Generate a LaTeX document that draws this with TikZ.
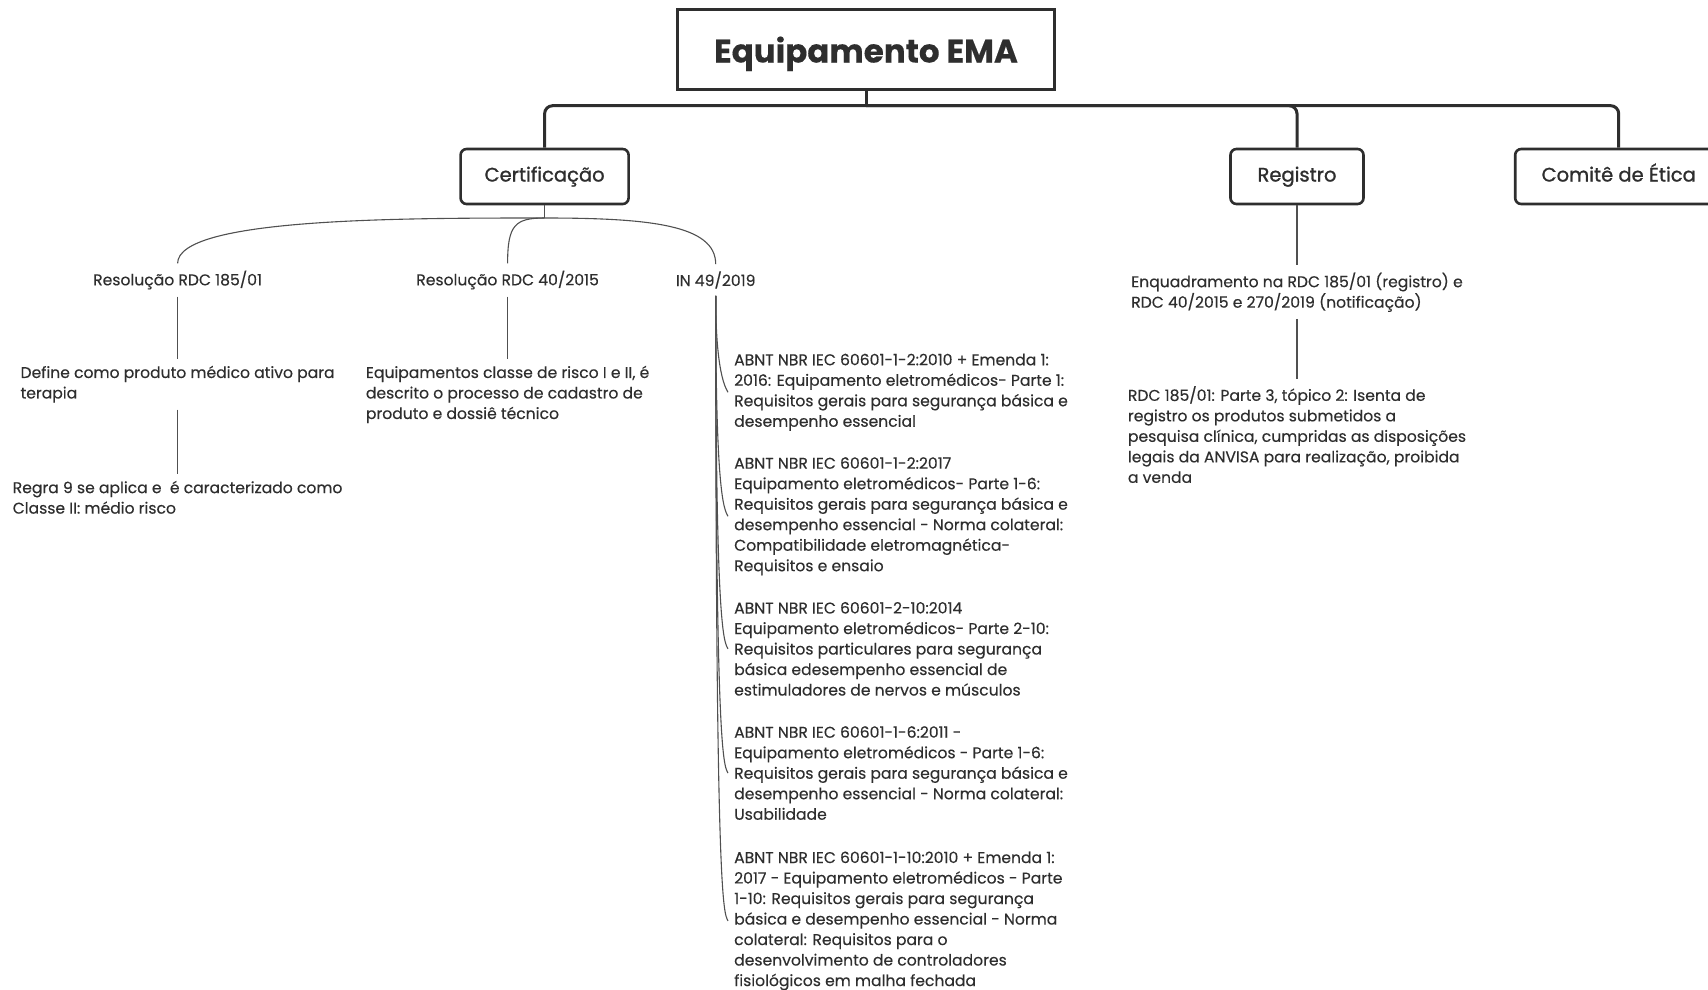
\documentclass[tikz,border=0pt]{standalone}
\usepackage{fontspec}
\setmainfont{Poppins}[FakeBold=0.3]
\newfontfamily\medfont{Poppins}[FakeBold=1.2]
\usetikzlibrary{positioning,calc}
\definecolor{ink}{HTML}{2E2E2E}
\definecolor{wire}{HTML}{505050}
\tikzset{topbox/.style={draw=ink,line width=3pt,minimum width=377pt,minimum height=80pt,text=ink,
	   text depth=0pt,font=\fontsize{32.5}{38}\selectfont\bfseries},
	 catbox/.style={draw=ink,line width=2.6pt,rounded corners=6pt,minimum height=55pt,text=ink,
	   text height=14pt,text depth=4pt,font=\fontsize{19.5}{23}\medfont},
	 leaf/.style={align=left,inner xsep=0pt,inner ysep=7pt,text=ink,font=\fontsize{15.6}{20.5}\selectfont},
	 norma/.style={leaf,inner xsep=6pt,anchor=north west},
	 bus/.style={draw=ink,line width=3pt,rounded corners=8pt},
	 twig/.style={draw=wire,line width=1.1pt}
	 }

\begin{document}
\begin{tikzpicture}[x=1pt,y=-1pt]
	\useasboundingbox (0,0) rectangle (1708,989);
	\node[topbox] (ema) at (866,49.5) {Equipamento EMA};
	\node[catbox,minimum width=168pt] (cert) at (544.6,176.5) {Certificação};
	\node[catbox,minimum width=133pt] (reg) at (1297,176.5) {Registro};
	\node[catbox,minimum width=207pt] (etica) at (1618.7,176.5) {Comitê de Ética};
	\coordinate (hub) at (866,105.7);
	\draw[bus] (ema.south) -- (hub);
	\draw[bus] (hub) -| (cert.north);
	\draw[bus] (hub) -| (reg.north);
	\draw[bus] (hub) -| (etica.north);
	% Certificação
	\coordinate (cfork) at (544.6,218);
	\node[leaf] (r185) at (177.6,280) {Resolução RDC 185/01};
	\node[leaf] (r40) at (507.6,280) {Resolução RDC 40/2015};
	\node[leaf] (in49) at (715.7,280) {IN 49/2019};
	\node[leaf] (ativo) [below=62pt of r185] {Define como produto médico ativo para\\terapia};
	\node[leaf] (regra) [below=64pt of ativo] {Regra 9 se aplica e\ \ é caracterizado como\\Classe II: médio risco};
	\node[leaf] (cadastro) [below=62pt of r40] {Equipamentos classe de risco I e II, é\\descrito o processo de cadastro de\\produto e dossiê técnico};
	\draw[twig] (cert.south) -- (cfork);
	\draw[twig] (cfork) .. controls (400,218) and (177.6,218) .. (r185.north);
	\draw[twig] (cfork) .. controls (515,218) and (507.6,225) .. (r40.north);
	\draw[twig] (cfork) .. controls (650,218) and (715.7,225) .. (in49.north);
	\draw[twig] (r185) -- (ativo);
	\draw[twig] (ativo) -- (regra);
	\draw[twig] (r40) -- (cadastro);
	% IN 49/2019
	\node[norma] (n1) at (728,346.5) {ABNT NBR IEC 60601-1-2:2010 + Emenda 1:\\2016: Equipamento eletromédicos- Parte 1:\\Requisitos gerais para segurança básica e\\desempenho essencial};
	\node[norma] (n2) at (728,450) {ABNT NBR IEC 60601-1-2:2017\\Equipamento eletromédicos- Parte 1-6:\\Requisitos gerais para segurança básica e\\desempenho essencial - Norma colateral:\\Compatibilidade eletromagnética-\\Requisitos e ensaio};
	\node[norma] (n3) at (728,594.8) {ABNT NBR IEC 60601-2-10:2014\\Equipamento eletromédicos- Parte 2-10:\\Requisitos particulares para segurança\\básica edesempenho essencial de\\estimuladores de nervos e músculos};
	\node[norma] (n4) at (728,719) {ABNT NBR IEC 60601-1-6:2011 -\\Equipamento eletromédicos - Parte 1-6:\\Requisitos gerais para segurança básica e\\desempenho essencial - Norma colateral:\\Usabilidade};
	\node[norma] (n5) at (728,844.3) {ABNT NBR IEC 60601-1-10:2010 + Emenda 1:\\2017 - Equipamento eletromédicos - Parte\\1-10: Requisitos gerais para segurança\\básica e desempenho essencial - Norma\\colateral: Requisitos para o\\desenvolvimento de controladores\\fisiológicos em malha fechada};
	\draw[twig] (in49.south) .. controls ($(in49.south |- n1.west)+(0,-30)$) and ($(n1.west)+(-5,-8)$) .. (n1.west);
	\draw[twig] (in49.south) .. controls ($(in49.south |- n2.west)+(0,-30)$) and ($(n2.west)+(-5,-8)$) .. (n2.west);
	\draw[twig] (in49.south) .. controls ($(in49.south |- n3.west)+(0,-30)$) and ($(n3.west)+(-5,-8)$) .. (n3.west);
	\draw[twig] (in49.south) .. controls ($(in49.south |- n4.west)+(0,-30)$) and ($(n4.west)+(-5,-8)$) .. (n4.west);
	\draw[twig] (in49.south) .. controls ($(in49.south |- n5.west)+(0,-30)$) and ($(n5.west)+(-5,-8)$) .. (n5.west);
	% Registro
	\node[leaf] (enq) [below=60pt of reg] {Enquadramento na RDC 185/01 (registro) e\\RDC 40/2015 e 270/2019 (notificação)};
	\node[leaf] (isenta) [below=60pt of enq] {RDC 185/01: Parte 3, tópico 2: Isenta de\\registro os produtos submetidos a\\pesquisa clínica, cumpridas as disposições\\legais da ANVISA para realização, proibida\\a venda};
	\draw[twig] (reg) -- (enq);
	\draw[twig] (enq) -- (isenta);
\end{tikzpicture}
\end{document}
